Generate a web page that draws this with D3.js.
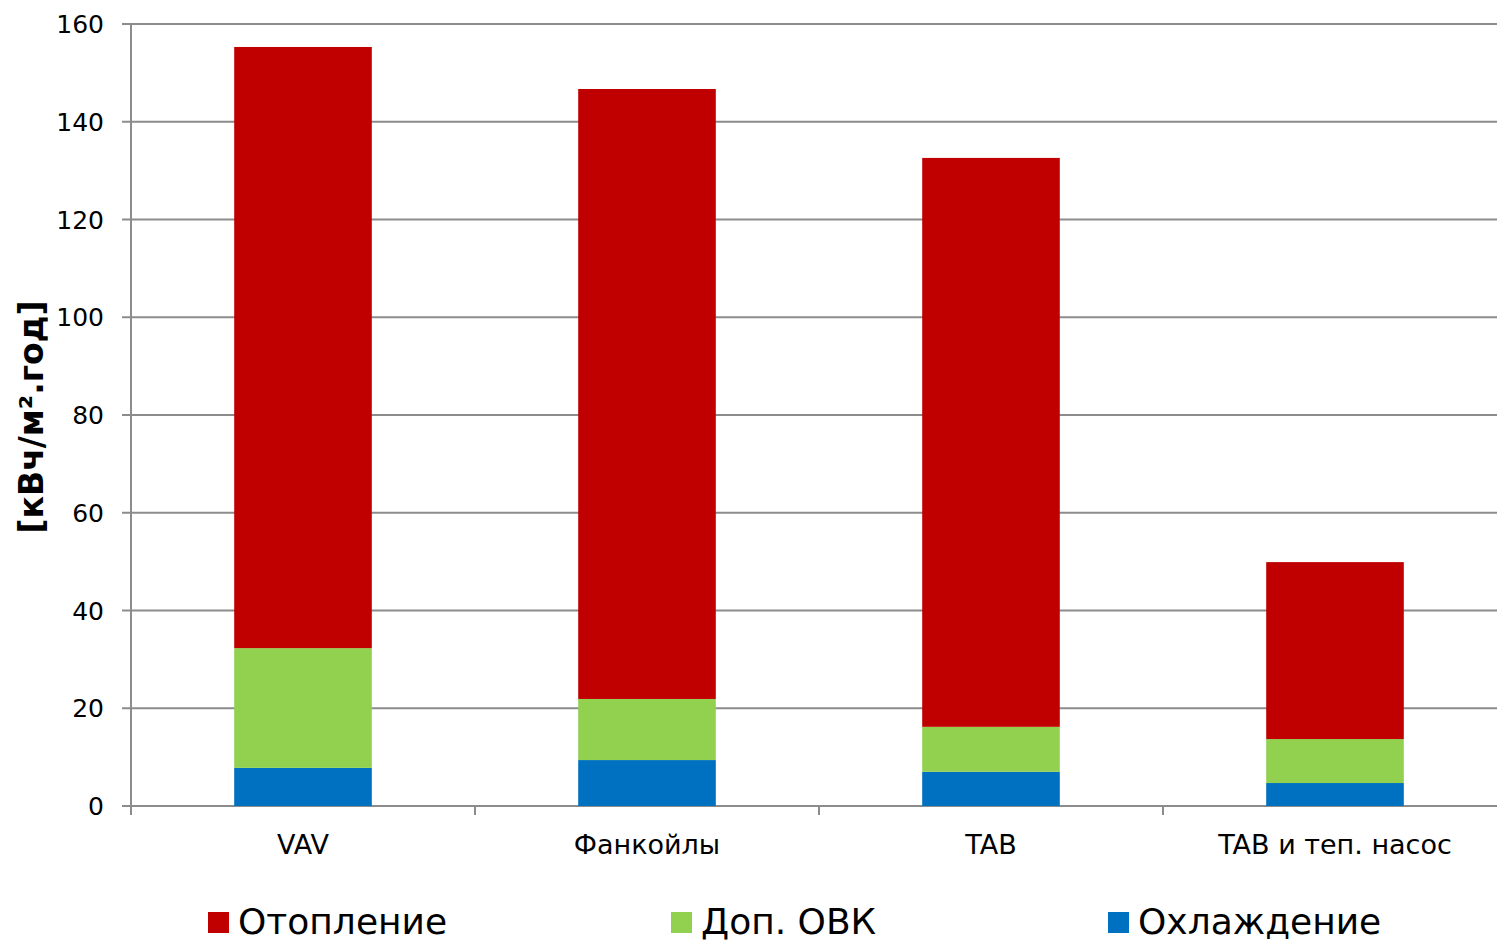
<!DOCTYPE html>
<html><head><meta charset="utf-8">
<script src="https://cdn.jsdelivr.net/npm/d3@7/dist/d3.min.js"></script>
<style>body{margin:0;background:#fff;overflow:hidden}svg{display:block}text{font-family:"DejaVu Sans",Verdana,sans-serif}</style>
</head><body>
<script>
const categories = ["VAV", "Фанкойлы", "TAB", "TAB и теп. насос"];
const seriesNames = ["Охлаждение", "Доп. ОВК", "Отопление"];
const cooling = [7.8, 9.4, 7.0, 4.7];
const extraHVAC = [24.5, 12.5, 9.2, 9.0];
const heating = [123.0, 124.8, 116.4, 36.2];
const yTicks = [0, 20, 40, 60, 80, 100, 120, 140, 160];
const colors = {"Отопление": "#C00000", "Доп. ОВК": "#92D050", "Охлаждение": "#0070C0"};
const legendOrder = ["Отопление", "Доп. ОВК", "Охлаждение"];
const yTitle = "[кВч/м².год]";

const W = 1497, H = 940;
const svg = d3.select("body").append("svg").attr("width", W).attr("height", H);
const x0 = 131, x1 = 1507, yTop = 24, yBot = 806;

const x = d3.scaleBand().domain(categories).range([x0, x1]).paddingInner(0.6).paddingOuter(0.3);
const y = d3.scaleLinear().domain([0, 160]).range([yBot, yTop]);

const table = categories.map((c, i) => ({cat: c, "Охлаждение": cooling[i], "Доп. ОВК": extraHVAC[i], "Отопление": heating[i]}));
const stack = d3.stack().keys(seriesNames)(table);

// gridlines
svg.append("g").selectAll("line").data(yTicks).join("line")
  .attr("x1", x0 - 9).attr("x2", W).attr("y1", d => y(d)).attr("y2", d => y(d))
  .attr("stroke", "#8c8c8c").attr("stroke-width", 2);

// y axis line
svg.append("line").attr("x1", x0).attr("x2", x0).attr("y1", yTop).attr("y2", yBot + 9)
  .attr("stroke", "#8c8c8c").attr("stroke-width", 2);

// y labels
svg.append("g").selectAll("text").data(yTicks).join("text")
  .attr("x", 104).attr("y", d => y(d)).attr("dy", "0.36em").attr("text-anchor", "end")
  .attr("font-size", 25).attr("fill", "#000").text(d => d);

// x ticks (between categories)
const step = x.step();
const tickXs = d3.range(categories.length).map(i => x0 + i * step);
svg.append("g").selectAll("line").data(tickXs).join("line")
  .attr("x1", d => d).attr("x2", d => d).attr("y1", yBot).attr("y2", yBot + 9)
  .attr("stroke", "#8c8c8c").attr("stroke-width", 2);

// bars
svg.append("g").selectAll("g").data(stack).join("g").attr("fill", d => colors[d.key])
  .selectAll("rect").data(d => d).join("rect")
  .attr("x", d => x(d.data.cat)).attr("width", x.bandwidth())
  .attr("y", d => y(d[1])).attr("height", d => y(d[0]) - y(d[1]));

// x labels
svg.append("g").selectAll("text").data(categories).join("text")
  .attr("x", d => x(d) + x.bandwidth() / 2).attr("y", 844).attr("dy", "0.36em")
  .attr("text-anchor", "middle").attr("font-size", 27).attr("fill", "#000").text(d => d);

// y title
svg.append("text").attr("transform", "translate(31,417) rotate(-90)")
  .attr("text-anchor", "middle").attr("dy", "0.36em").attr("font-size", 33).attr("font-weight", "bold")
  .text(yTitle);

// legend
const legX = [208, 671, 1108];
const lg = svg.append("g").selectAll("g").data(legendOrder).join("g")
  .attr("transform", (d, i) => `translate(${legX[i]},912)`);
lg.append("rect").attr("width", 21).attr("height", 21).attr("fill", d => colors[d]);
lg.append("text").attr("x", 30).attr("y", 22)
  .attr("font-size", 36).text(d => d);
</script>
</body></html>
